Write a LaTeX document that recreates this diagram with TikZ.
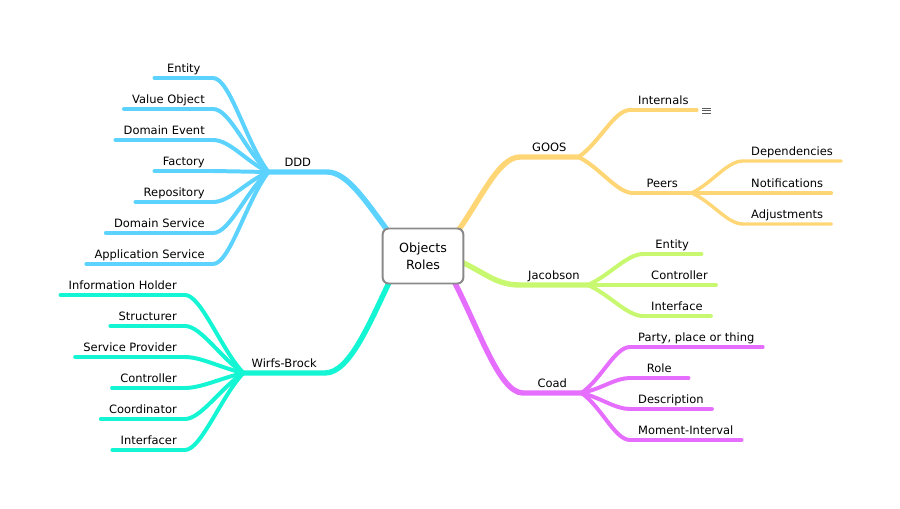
\documentclass[tikz,border=0pt]{standalone}
\usepackage{fontspec}
\setmainfont{DejaVu Sans}
\usetikzlibrary{backgrounds}

\definecolor{cddd}{RGB}{92,210,255}
\definecolor{cwb}{RGB}{20,245,212}
\definecolor{cgoos}{RGB}{255,214,117}
\definecolor{cjac}{RGB}{200,247,112}
\definecolor{ccoad}{RGB}{230,110,255}
\definecolor{cbox}{RGB}{138,138,138}

\begin{document}
\begin{tikzpicture}[x=0.03cm, y=-0.03cm, font=\fontsize{9.8}{13.6}\selectfont]
    \tikzstyle{topic} = [inner xsep=0.24cm, inner ysep=0.15cm, text depth=0pt, minimum width=1.74cm]
    \tikzstyle{branch} = [line width=4.6pt, line cap=round]
    \tikzstyle{twig} = [line width=3.4pt, line cap=round]
    \tikzstyle{sprig} = [line width=2.9pt, line cap=round]

    \useasboundingbox (0,0) rectangle (900,509);

    \node (root) at (423,256) [draw=cbox, line width=1.7pt, rounded corners=0.18cm, fill=white,
        minimum width=2.42cm, minimum height=1.65cm, align=center,
        font=\fontsize{10.8}{14.4}\selectfont] {Objects\\Roles};

    \coordinate (r-ddd) at (393,238);
    \coordinate (r-wb) at (394,272);
    \coordinate (r-goos) at (453,238);
    \coordinate (r-jac) at (455,259);
    \coordinate (r-coad) at (449,272);

    % main topics
    \node (ddd) at (327,172) [topic, anchor=south east] {DDD};
    \node (wb) at (325,373) [topic, anchor=south east] {Wirfs-Brock};
    \node (goos) at (520,157) [topic, anchor=south west] {GOOS};
    \node (jac) at (520,285) [topic, anchor=south west] {Jacobson};
    \node (coad) at (523,393) [topic, anchor=south west] {Coad};

    % DDD
    \node (d1) at (213,78) [topic, anchor=south east] {Entity};
    \node (d2) at (213,109) [topic, anchor=south east] {Value Object};
    \node (d3) at (213,140) [topic, anchor=south east] {Domain Event};
    \node (d4) at (213,171) [topic, anchor=south east] {Factory};
    \node (d5) at (213,202) [topic, anchor=south east] {Repository};
    \node (d6) at (213,233) [topic, anchor=south east] {Domain Service};
    \node (d7) at (213,264) [topic, anchor=south east] {Application Service};

    % Wirfs-Brock
    \node (w1) at (185,295) [topic, anchor=south east] {Information Holder};
    \node (w2) at (185,326) [topic, anchor=south east] {Structurer};
    \node (w3) at (185,357) [topic, anchor=south east] {Service Provider};
    \node (w4) at (185,388) [topic, anchor=south east] {Controller};
    \node (w5) at (185,419) [topic, anchor=south east] {Coordinator};
    \node (w6) at (185,450) [topic, anchor=south east] {Interfacer};

    % GOOS
    \node (g1) at (630,110) [topic, anchor=south west] {Internals};
    \node (peers) at (633,193) [topic, anchor=south west] {Peers};
    \node (p1) at (743,161) [topic, anchor=south west] {Dependencies};
    \node (p2) at (743,193) [topic, anchor=south west] {Notifications};
    \node (p3) at (743,224) [topic, anchor=south west] {Adjustments};

    % Jacobson
    \node (j1) at (643,254) [topic, anchor=south west] {Entity};
    \node (j2) at (643,285) [topic, anchor=south west] {Controller};
    \node (j3) at (643,316) [topic, anchor=south west] {Interface};

    % Coad
    \node (c1) at (630,347) [topic, anchor=south west] {Party, place or thing};
    \node (c2) at (630,378) [topic, anchor=south west] {Role};
    \node (c3) at (630,409) [topic, anchor=south west] {Description};
    \node (c4) at (630,440) [topic, anchor=south west] {Moment-Interval};

    % note marker
    \draw [black!65, line width=0.7pt] (702,108) -- (711,108) (702,110.5) -- (711,110.5) (702,113) -- (711,113);

    \begin{pgfonlayer}{background}
    \draw [cddd, branch] (r-ddd) .. controls +(-28,-38) and +(20,0) .. (ddd.south east) -- (ddd.south west);
    \draw [cwb, branch] (r-wb) .. controls +(-24,50) and +(25,0) .. (wb.south east) -- (wb.south west);
    \draw [cgoos, branch] (r-goos) .. controls +(28,-38) and +(-22,0) .. (goos.south west) -- (goos.south east);
    \draw [cjac, branch] (r-jac) .. controls +(30,13) and +(-25,0) .. (jac.south west) -- (jac.south east);
    \draw [ccoad, branch] (r-coad) .. controls +(28,50) and +(-25,0) .. (coad.south west) -- (coad.south east);

    \draw [cddd, twig] (ddd.south west) .. controls +(-22,-28) and +(17,0) .. (d1.south east) -- (d1.south west);
    \draw [cddd, twig] (ddd.south west) .. controls +(-22,-19) and +(17,0) .. (d2.south east) -- (d2.south west);
    \draw [cddd, twig] (ddd.south west) .. controls +(-22,-10) and +(17,0) .. (d3.south east) -- (d3.south west);
    \draw [cddd, twig] (ddd.south west) -- (d4.south east) -- (d4.south west);
    \draw [cddd, twig] (ddd.south west) .. controls +(-22,9) and +(17,0) .. (d5.south east) -- (d5.south west);
    \draw [cddd, twig] (ddd.south west) .. controls +(-22,18) and +(17,0) .. (d6.south east) -- (d6.south west);
    \draw [cddd, twig] (ddd.south west) .. controls +(-22,28) and +(17,0) .. (d7.south east) -- (d7.south west);

    \draw [cwb, twig] (wb.south west) .. controls +(-22,-23) and +(16,0) .. (w1.south east) -- (w1.south west);
    \draw [cwb, twig] (wb.south west) .. controls +(-22,-14) and +(16,0) .. (w2.south east) -- (w2.south west);
    \draw [cwb, twig] (wb.south west) .. controls +(-22,-5) and +(16,0) .. (w3.south east) -- (w3.south west);
    \draw [cwb, twig] (wb.south west) .. controls +(-22,5) and +(16,0) .. (w4.south east) -- (w4.south west);
    \draw [cwb, twig] (wb.south west) .. controls +(-22,14) and +(16,0) .. (w5.south east) -- (w5.south west);
    \draw [cwb, twig] (wb.south west) .. controls +(-22,23) and +(16,0) .. (w6.south east) -- (w6.south west);

    \draw [cgoos, twig] (goos.south east) .. controls +(21,-14) and +(-16,0) .. (g1.south west) -- (g1.south east);
    \draw [cgoos, twig] (goos.south east) .. controls +(22,11) and +(-16,0) .. (peers.south west) -- (peers.south east);
    \draw [cgoos, sprig] (peers.south east) .. controls +(21,-10) and +(-16,0) .. (p1.south west) -- (p1.south east);
    \draw [cgoos, sprig] (peers.south east) -- (p2.south west) -- (p2.south east);
    \draw [cgoos, sprig] (peers.south east) .. controls +(21,9) and +(-16,0) .. (p3.south west) -- (p3.south east);

    \draw [cjac, twig] (jac.south east) .. controls +(21,-9) and +(-16,0) .. (j1.south west) -- (j1.south east);
    \draw [cjac, twig] (jac.south east) -- (j2.south west) -- (j2.south east);
    \draw [cjac, twig] (jac.south east) .. controls +(21,9) and +(-16,0) .. (j3.south west) -- (j3.south east);

    \draw [ccoad, twig] (coad.south east) .. controls +(20,-14) and +(-15,0) .. (c1.south west) -- (c1.south east);
    \draw [ccoad, twig] (coad.south east) .. controls +(20,-4) and +(-15,0) .. (c2.south west) -- (c2.south east);
    \draw [ccoad, twig] (coad.south east) .. controls +(20,5) and +(-15,0) .. (c3.south west) -- (c3.south east);
    \draw [ccoad, twig] (coad.south east) .. controls +(20,14) and +(-15,0) .. (c4.south west) -- (c4.south east);
    \end{pgfonlayer}
\end{tikzpicture}
\end{document}
